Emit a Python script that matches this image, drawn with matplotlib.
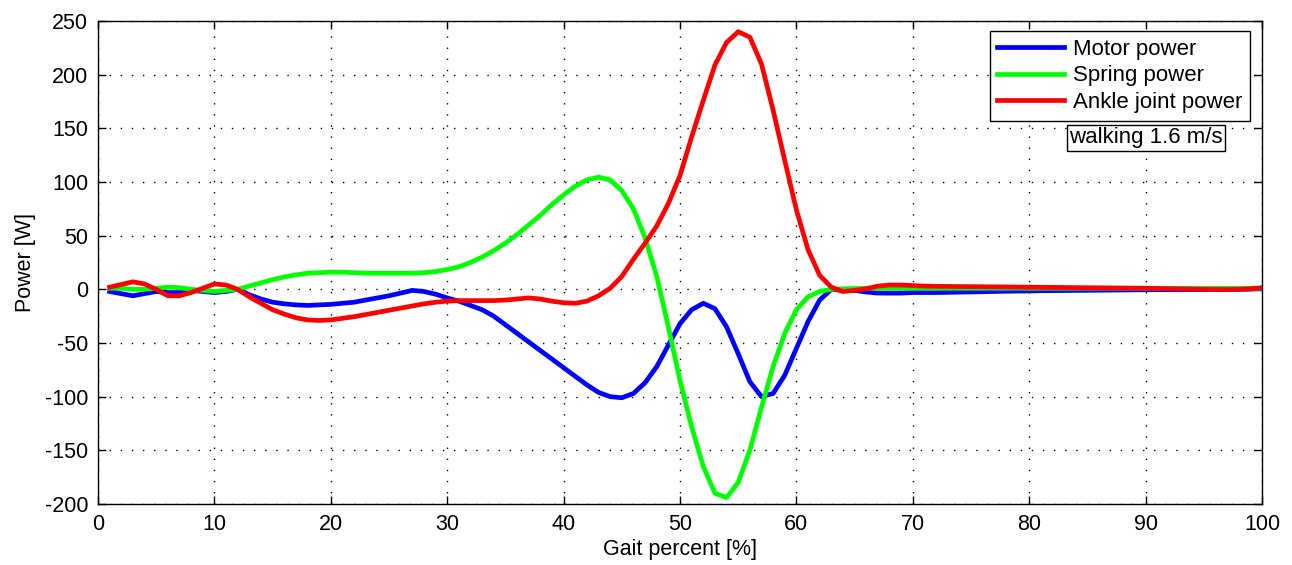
import numpy as np
import matplotlib
matplotlib.use("Agg")
import matplotlib.pyplot as plt

plt.rcParams['font.family'] = ['Liberation Sans', 'DejaVu Sans']
plt.rcParams['axes.unicode_minus'] = False

gait = list(range(1, 101))

motor_power = [
    -2, -4, -6, -4, -2, -3, -3, -1, -2, -3,
    -2, 0, -5, -9, -12, -13.5, -14.5, -15, -14.5, -14,
    -13, -12, -10, -8, -6, -3.5, -1, -2, -4.5, -8,
    -11, -15, -19, -25, -33, -41, -49, -57, -65, -73,
    -81, -89, -96, -100, -101, -97, -87, -72, -52, -32,
    -19, -13, -18, -35, -60, -86, -100, -97, -80, -55,
    -30, -10, 0, -1, -1, -2.5, -3.5, -3.5, -3.5, -3,
    -3, -3, -2.8, -2.6, -2.4, -2.2, -2, -1.8, -1.6, -1.5,
    -1.3, -1.2, -1.1, -1, -0.9, -0.8, -0.7, -0.6, -0.5, -0.4,
    -0.3, -0.3, -0.2, -0.2, -0.2, -0.2, -0.1, 0, 0.2, 0.5,
]

spring_power = [
    1, 1, 0, 0, 1, 2, 1.5, 0, -1, -2,
    -1, 0, 3, 6, 9, 11.5, 13.5, 15, 15.5, 16,
    16, 15.5, 15, 15, 15, 15, 15, 15.5, 16.5, 18.5,
    21, 25, 30, 36, 43, 51, 60, 69, 79, 88,
    96, 102, 104.5, 102, 92, 75, 48, 12, -35, -85,
    -128, -165, -190, -194, -180, -150, -110, -72, -41, -19,
    -7, -2, 0, 0.5, 0.8, 1, 1, 1, 1, 1,
    1, 1, 1, 1, 1, 1, 1, 1, 1, 1,
    1, 1, 1, 1, 1, 1, 1, 1, 1, 1,
    1, 1, 1, 1, 1, 1, 1, 1, 1, 1,
]

ankle_power = [
    2, 4.5, 7, 5, 0, -6, -6, -3, 1, 5,
    4, 0, -7, -13, -19, -23, -26.5, -28.5, -29, -28.5,
    -27, -25.5, -23.5, -21.5, -19.5, -17.5, -15.5, -13.5, -12, -11,
    -10.5, -10.5, -10.5, -10.5, -10, -9, -8, -9, -11, -12.5,
    -13, -11, -6, 1, 12, 28, 43, 59, 80, 106,
    142, 176, 209, 230, 240, 235, 210, 167, 120, 74,
    37, 13, 2, -2, -1, 0.5, 3, 4, 4, 3.5,
    3, 2.8, 2.7, 2.6, 2.5, 2.4, 2.3, 2.2, 2.1, 2,
    1.9, 1.8, 1.7, 1.6, 1.5, 1.4, 1.3, 1.2, 1.1, 1,
    0.8, 0.6, 0.4, 0.2, 0, -0.2, -0.2, 0, 0.5, 1.5,
]

x_ticks = list(range(0, 101, 10))
y_ticks = list(range(-200, 251, 50))

fig = plt.figure(figsize=(12.92, 5.65), dpi=100)
ax = fig.add_axes([98/1292, 1 - 504/565, 1164/1292, 483/565])

lw = 3.4
ax.plot(gait, motor_power, color=(0, 0, 1), lw=lw, label='Motor power')
ax.plot(gait, spring_power, color=(0, 1, 0), lw=lw, label='Spring power')
ax.plot(gait, ankle_power, color=(1, 0, 0), lw=lw, label='Ankle joint power')

ax.set_xlim(0, 100)
ax.set_ylim(-200, 250)
ax.set_xticks(x_ticks)
ax.set_yticks(y_ticks)
ax.tick_params(direction='in', top=True, right=True, labelsize=15.5, length=6, width=1, pad=7)
ax.grid(True, color='k', linestyle=(0, (1, 7)), linewidth=1.0)
for s in ax.spines.values():
    s.set_linewidth(1.0)

ax.set_xlabel('Gait percent [%]', fontsize=15.5, labelpad=3)
ax.set_ylabel('Power [W]', fontsize=15.5, labelpad=6)

leg = ax.legend(loc='upper right', bbox_to_anchor=(0.9897, 0.979), fontsize=16,
                frameon=True, fancybox=False, edgecolor='k', framealpha=1,
                handlelength=3.0, borderaxespad=0, labelspacing=0.25,
                handletextpad=0.4, borderpad=0.35)
leg.get_frame().set_linewidth(1.0)

ax.text(90.0, 141, 'walking 1.6 m/s', fontsize=16, ha='center', va='center',
        bbox=dict(boxstyle='square,pad=0.1', fc='white', ec='k', lw=1.0))

fig.savefig('out.png', dpi=100)
